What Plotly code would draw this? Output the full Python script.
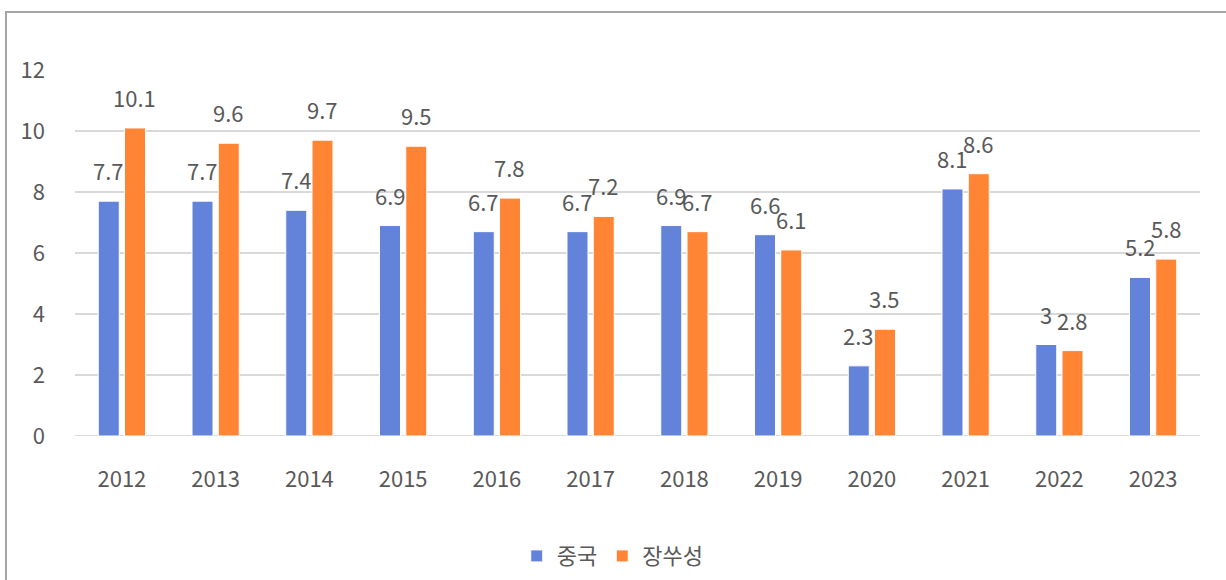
import plotly.graph_objects as go

years = ["2012", "2013", "2014", "2015", "2016", "2017", "2018", "2019", "2020", "2021", "2022", "2023"]
china = [7.7, 7.7, 7.4, 6.9, 6.7, 6.7, 6.9, 6.6, 2.3, 8.1, 3.0, 5.2]
jiangsu = [10.1, 9.6, 9.7, 9.5, 7.8, 7.2, 6.7, 6.1, 3.5, 8.6, 2.8, 5.8]
series_names = ["중국", "장쑤성"]
y_ticks = [0, 2, 4, 6, 8, 10, 12]

BLUE = "#6283D9"
ORANGE = "#FF8535"
TEXT = "#595959"
GRID = "#D9D9D9"
FONT = "Noto Sans CJK KR, Noto Sans, sans-serif"

fig = go.Figure()
for name, vals, col in [(series_names[0], china, BLUE), (series_names[1], jiangsu, ORANGE)]:
    fig.add_trace(go.Bar(
        x=years, y=vals, name=name,
        marker=dict(color=col, line=dict(color="white", width=1)),
        hoverinfo="x+y+name",
    ))

# data labels (x given as category index)
for vals, shift in [(china, -13), (jiangsu, 13)]:
    for i, v in enumerate(vals):
        fig.add_annotation(
            x=i, y=v, xref="x", yref="y", text=f"{v:g}", showarrow=False,
            xshift=shift, yshift=31, yanchor="middle", xanchor="center",
            font=dict(size=22, color=TEXT, family=FONT),
        )

# gridlines (top one at 12 not drawn in reference)
for t in y_ticks[:-1]:
    fig.add_shape(type="line", xref="paper", yref="y", x0=0, x1=1, y0=t, y1=t,
                  line=dict(color=GRID, width=2), layer="below")

# outer border
fig.add_shape(type="rect", xref="paper", yref="paper",
              x0=(6 - 75) / 1125, x1=1.05, y0=-0.6, y1=1 + (70 - 12) / 366,
              line=dict(color="#A6A6A6", width=2), fillcolor="rgba(0,0,0,0)", layer="below")

fig.update_layout(
    width=1226, height=580,
    margin=dict(l=75, r=26, t=70, b=144),
    paper_bgcolor="white", plot_bgcolor="white",
    barmode="group", bargap=0.44, bargroupgap=0.2,
    font=dict(family=FONT, size=22, color=TEXT),
    showlegend=True,
    legend=dict(orientation="h", xref="paper", x=0.478, xanchor="center",
                yref="container", y=0.005, yanchor="bottom",
                font=dict(size=22, color=TEXT, family=FONT), traceorder="normal",
                itemwidth=30, bgcolor="rgba(0,0,0,0)"),
    xaxis=dict(type="category", range=[-0.5, len(years) - 0.5], showgrid=False,
               showline=False, ticks="", tickfont=dict(size=22, color=TEXT),
               ticklabelstandoff=28, automargin=False),
    yaxis=dict(range=[0, 12], tickvals=y_ticks, showgrid=False, zeroline=False,
               showline=False, ticks="", tickfont=dict(size=22, color=TEXT),
               ticklabelstandoff=29, automargin=False),
)

fig.write_html("out.html", config={"displayModeBar": False},
               post_script="document.body.style.margin='0';document.body.style.overflow='hidden';")
